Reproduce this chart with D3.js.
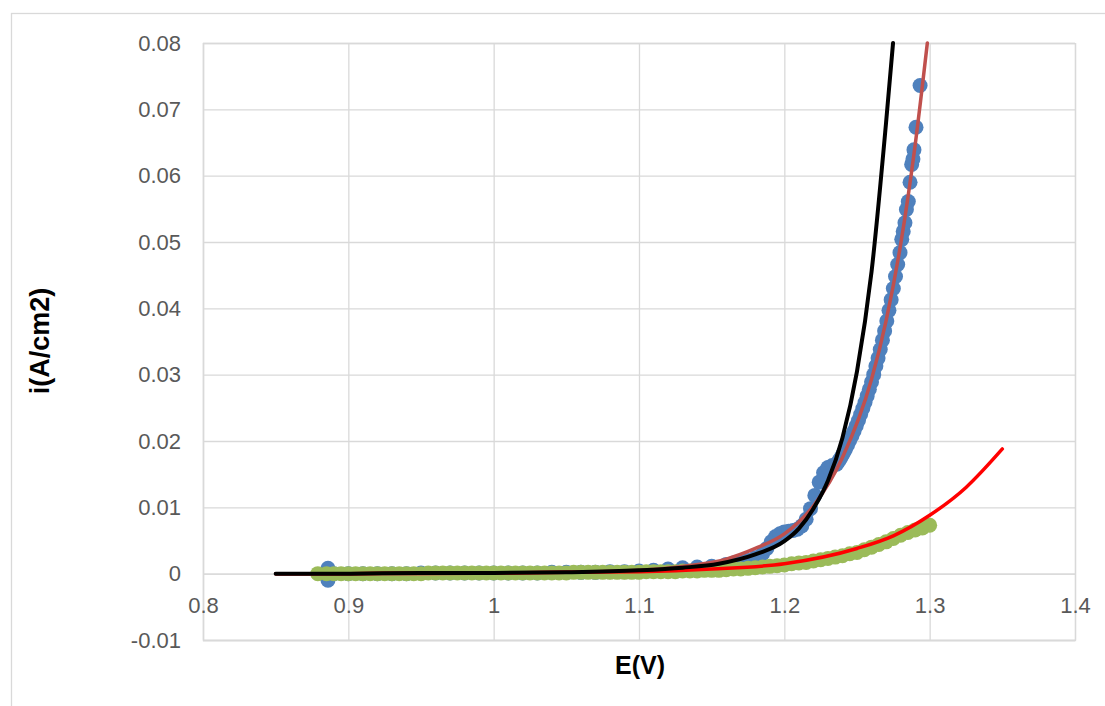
<!DOCTYPE html>
<html>
<head>
<meta charset="utf-8">
<script src="https://cdn.jsdelivr.net/npm/d3@7"></script>
<style>
  html, body { margin: 0; padding: 0; background: #fff; }
  svg { display: block; }
</style>
</head>
<body>
<svg id="chart" width="1105" height="706"></svg>
<script>
// Axis ticks
const xTicks = [0.8, 0.9, 1.0, 1.1, 1.2, 1.3, 1.4];
const xTickLabels = ["0.8", "0.9", "1", "1.1", "1.2", "1.3", "1.4"];
const yTicks = [-0.01, 0, 0.01, 0.02, 0.03, 0.04, 0.05, 0.06, 0.07, 0.08];
const yTickLabels = ["-0.01", "0", "0.01", "0.02", "0.03", "0.04", "0.05", "0.06", "0.07", "0.08"];

// Measured polarisation data, series 1 (blue markers)
const blueE = [0.886, 0.886,
  0.89, 0.90, 0.91, 0.92, 0.93, 0.94, 0.95, 0.96, 0.97, 0.98, 0.99, 1.00,
  1.01, 1.02, 1.03, 1.04, 1.05, 1.06, 1.07, 1.08, 1.09,
  1.10, 1.11, 1.12, 1.13, 1.14, 1.15, 1.16, 1.165, 1.17, 1.175, 1.18, 1.185,
  1.188, 1.191, 1.194, 1.197, 1.200, 1.203, 1.206, 1.209, 1.212, 1.215, 1.218,
  1.221, 1.224, 1.227, 1.230, 1.233,
  1.236, 1.2375, 1.239, 1.2405, 1.242, 1.2435, 1.245, 1.2465, 1.248, 1.2495,
  1.251, 1.2525, 1.254, 1.2555, 1.257, 1.2585, 1.260, 1.2615, 1.263, 1.2645,
  1.266, 1.2675, 1.269, 1.2705, 1.272, 1.2735, 1.275, 1.2765, 1.278, 1.2796,
  1.2808, 1.2818, 1.2830, 1.2840, 1.2853, 1.2865, 1.2876, 1.2885, 1.2892, 1.2906, 1.2934];
const blueI = [0.0008, -0.0010,
  0.0000, 0.0000, 0.0000, 0.0000, 0.0000, 0.0000, 0.0001, 0.0001, 0.0001, 0.0001, 0.0001, 0.0001,
  0.0001, 0.0001, 0.0001, 0.0002, 0.0002, 0.0002, 0.0002, 0.0003, 0.0003,
  0.0004, 0.0005, 0.0007, 0.0009, 0.0010, 0.0011, 0.0014, 0.0016, 0.0018, 0.0020, 0.0024, 0.0030,
  0.0038, 0.0048, 0.0056, 0.0060, 0.0063, 0.0064, 0.0065, 0.0067, 0.0072, 0.0082, 0.0098,
  0.0118, 0.0138, 0.0152, 0.0160, 0.0163,
  0.0165, 0.0170, 0.0175, 0.0181, 0.0187, 0.0194, 0.0201, 0.0208, 0.0215, 0.0223,
  0.0231, 0.0240, 0.0249, 0.0258, 0.0268, 0.0278, 0.0289, 0.0300, 0.0313, 0.0325,
  0.0338, 0.0352, 0.0366, 0.0381, 0.0397, 0.0413, 0.0430, 0.0448, 0.0466, 0.0484,
  0.0504, 0.0516, 0.0529, 0.0549, 0.0561, 0.0590, 0.0617, 0.0625, 0.0639, 0.0673, 0.0736];

// Measured polarisation data, series 2 (green markers)
const greenE = [0.879, 0.885, 0.890, 0.895, 0.900, 0.905, 0.910, 0.915, 0.920, 0.925,
  0.930, 0.935, 0.940, 0.945, 0.950, 0.955, 0.960, 0.965, 0.970, 0.975,
  0.980, 0.985, 0.990, 0.995, 1.000, 1.005, 1.010, 1.015, 1.020, 1.025,
  1.030, 1.035, 1.040, 1.045, 1.050, 1.055, 1.060, 1.065, 1.070, 1.075,
  1.080, 1.085, 1.090, 1.095, 1.100, 1.105, 1.110, 1.115, 1.120, 1.125,
  1.130, 1.135, 1.140, 1.145, 1.150, 1.155, 1.160, 1.165, 1.170, 1.175,
  1.180, 1.185, 1.190, 1.195, 1.200, 1.205, 1.210, 1.215, 1.220, 1.225,
  1.230, 1.235, 1.240, 1.245, 1.250, 1.255, 1.260, 1.265, 1.270, 1.275,
  1.280, 1.285, 1.290, 1.295, 1.300];
const greenI = [0.0000, 0.0000, 0.0000, 0.0000, 0.0000, 0.0000, 0.0000, 0.0000, 0.0000, 0.0000,
  0.0000, 0.0000, 0.0000, 0.0000, 0.0000, 0.0001, 0.0001, 0.0001, 0.0001, 0.0001,
  0.0001, 0.0001, 0.0001, 0.0001, 0.0001, 0.0001, 0.0001, 0.0001, 0.0001, 0.0001,
  0.0001, 0.0001, 0.0001, 0.0001, 0.0001, 0.0002, 0.0002, 0.0002, 0.0002, 0.0002,
  0.0002, 0.0002, 0.0002, 0.0002, 0.0002, 0.0003, 0.0003, 0.0003, 0.0003, 0.0003,
  0.0004, 0.0004, 0.0004, 0.0005, 0.0005, 0.0005, 0.0006, 0.0007, 0.0007, 0.0008,
  0.0009, 0.0010, 0.0011, 0.0012, 0.0013, 0.0015, 0.0016, 0.0017, 0.0019, 0.0021,
  0.0023, 0.0025, 0.0027, 0.0030, 0.0032, 0.0036, 0.0040, 0.0044, 0.0048, 0.0053,
  0.0058, 0.0062, 0.0066, 0.0069, 0.0073];

// Model curves
const fitBrownE = [0.85, 0.90, 0.95, 1.00, 1.05, 1.10, 1.13, 1.16, 1.18, 1.20, 1.22, 1.24,
  1.26, 1.27, 1.28, 1.29, 1.2984];
const fitBrownI = [0.0000, 0.0000, 0.0000, 0.0001, 0.0002, 0.0005, 0.0011, 0.0022, 0.0038,
  0.0060, 0.0102, 0.0175, 0.0293, 0.0381, 0.0496, 0.0646, 0.0800];

const fitBlackE = [0.85, 0.90, 0.95, 1.00, 1.05, 1.10, 1.13, 1.155, 1.18, 1.20, 1.21, 1.22,
  1.23, 1.24, 1.25, 1.26, 1.27, 1.2748];
const fitBlackI = [0.0000, 0.0000, 0.0001, 0.0001, 0.0002, 0.0005, 0.0009, 0.0015, 0.0029,
  0.0049, 0.0068, 0.0098, 0.0140, 0.0205, 0.0305, 0.0455, 0.0680, 0.0800];

const fitRedE = [0.85, 0.90, 0.95, 1.00, 1.05, 1.10, 1.15, 1.20, 1.25, 1.275, 1.30, 1.325, 1.35];
const fitRedI = [0.0000, 0.0000, 0.0001, 0.0001, 0.0002, 0.0003, 0.0007, 0.0015, 0.0038,
  0.0057, 0.0088, 0.0130, 0.0188];

const svg = d3.select("#chart");
const W = 1105, H = 706;
const plot = { left: 203, right: 1075, top: 43, bottom: 640 };

const x = d3.scaleLinear().domain([0.8, 1.4]).range([plot.left, plot.right]);
const y = d3.scaleLinear().domain([-0.01, 0.08]).range([plot.bottom, plot.top]);

const gridColor = "#d9d9d9";
const textColor = "#595959";
const font = "'Liberation Sans', Arial, sans-serif";

// Chart-area border
svg.append("rect")
  .attr("x", 11.5).attr("y", 13.5)
  .attr("width", W).attr("height", H)
  .attr("fill", "none").attr("stroke", gridColor).attr("stroke-width", 1.3);

// Horizontal gridlines + value labels
const yAxis = svg.append("g")
  .attr("transform", `translate(${plot.left},0)`)
  .call(d3.axisLeft(y).tickValues(yTicks)
    .tickFormat((d, i) => yTickLabels[i])
    .tickSize(-(plot.right - plot.left)).tickPadding(22));
yAxis.select(".domain").attr("stroke", gridColor).attr("stroke-width", 1.3);
yAxis.selectAll(".tick line").attr("stroke", gridColor).attr("stroke-width", 1.3);
yAxis.selectAll(".tick text")
  .attr("fill", textColor).attr("font-family", font).attr("font-size", 22);

// Vertical gridlines
const xGrid = svg.append("g")
  .attr("transform", `translate(0,${plot.bottom})`)
  .call(d3.axisBottom(x).tickValues(xTicks).tickFormat("")
    .tickSize(-(plot.bottom - plot.top)));
xGrid.select(".domain").attr("stroke", gridColor).attr("stroke-width", 1.3);
xGrid.selectAll(".tick line").attr("stroke", gridColor).attr("stroke-width", 1.3);

// Horizontal axis crossing at i = 0, labels below it
const xAxis = svg.append("g")
  .attr("transform", `translate(0,${y(0)})`)
  .call(d3.axisBottom(x).tickValues(xTicks)
    .tickFormat((d, i) => xTickLabels[i])
    .tickSize(0).tickPadding(24));
xAxis.select(".domain").attr("stroke", gridColor).attr("stroke-width", 1.3);
xAxis.selectAll(".tick text")
  .attr("fill", textColor).attr("font-family", font).attr("font-size", 22);

// Scatter series
const blue = blueE.map((e, i) => [e, blueI[i]]);
const green = greenE.map((e, i) => [e, greenI[i]]);

svg.append("g").selectAll("circle").data(blue).join("circle")
  .attr("cx", d => x(d[0])).attr("cy", d => y(d[1])).attr("r", 7.5)
  .attr("fill", "#4f81bd");

svg.append("g").selectAll("circle").data(green).join("circle")
  .attr("cx", d => x(d[0])).attr("cy", d => y(d[1])).attr("r", 7.5)
  .attr("fill", "#9bbb59");

// Model curves
const line = d3.line().x(d => x(d[0])).y(d => y(d[1])).curve(d3.curveMonotoneX);
function drawCurve(es, is, color, w) {
  svg.append("path")
    .datum(es.map((e, i) => [e, is[i]]))
    .attr("d", line)
    .attr("fill", "none").attr("stroke", color).attr("stroke-width", w)
    .attr("stroke-linecap", "round").attr("stroke-linejoin", "round");
}
drawCurve(fitBrownE, fitBrownI, "#c0504d", 3.5);
drawCurve(fitRedE, fitRedI, "#ff0000", 3.5);
drawCurve(fitBlackE, fitBlackI, "#000000", 4);

// Axis titles
svg.append("text")
  .attr("x", 640).attr("y", 674)
  .attr("text-anchor", "middle")
  .attr("font-family", font).attr("font-size", 25).attr("font-weight", "bold")
  .attr("fill", "#000").text("E(V)");

svg.append("text")
  .attr("transform", "translate(49,341) rotate(-90)")
  .attr("text-anchor", "middle")
  .attr("font-family", font).attr("font-size", 27).attr("font-weight", "bold")
  .attr("fill", "#000").text("i(A/cm2)");
</script>
</body>
</html>
